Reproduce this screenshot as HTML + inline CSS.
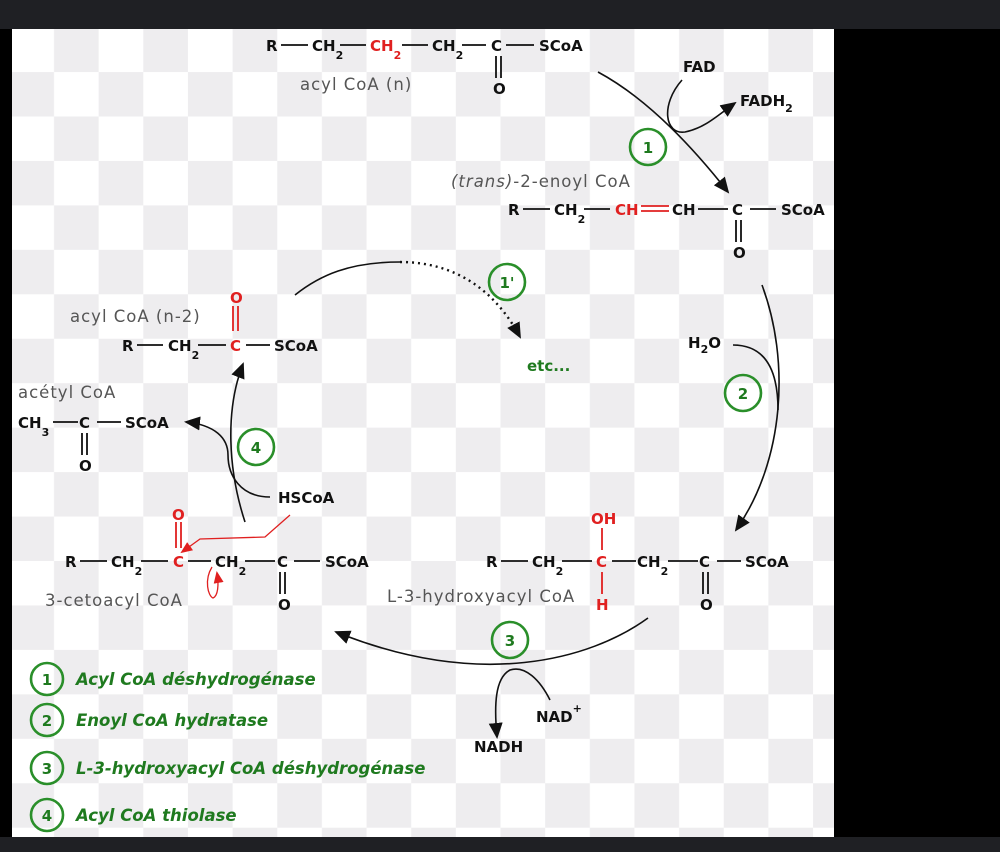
<!DOCTYPE html>
<html><head><meta charset="utf-8"><style>
html,body{margin:0;padding:0;background:#000;}
svg{display:block}
text{font-family:"DejaVu Sans","Liberation Sans",sans-serif;}
.b{font-weight:bold;font-size:15px;fill:#111}
.r{fill:#e02020}
.l{font-size:16.5px;fill:#555;letter-spacing:1px}
.g{font-weight:bold;font-size:15px;fill:#1f7a1f}
.s{font-size:11px}
.lg{font-weight:bold;font-style:italic;font-size:16.5px;fill:#1f7a1f}
</style></head><body>
<svg width="1000" height="852" viewBox="0 0 1000 852" xmlns="http://www.w3.org/2000/svg">
<defs>
<pattern id="ck" x="9.35" y="27.6" width="89.3" height="88.9" patternUnits="userSpaceOnUse">
<rect width="89.3" height="88.9" fill="#fff"/>
<rect x="44.65" y="0" width="44.65" height="44.45" fill="#eeedef"/>
<rect x="0" y="44.45" width="44.65" height="44.45" fill="#eeedef"/>
</pattern>
<marker id="ahb" markerWidth="16" markerHeight="14" refX="14" refY="7" orient="auto" markerUnits="userSpaceOnUse"><path d="M0,0 L16,7 L0,14 z" fill="#111"/></marker>
<marker id="ahr" markerWidth="12" markerHeight="10" refX="10" refY="5" orient="auto" markerUnits="userSpaceOnUse"><path d="M0,0 L12,5 L0,10 z" fill="#e02020"/></marker>
</defs>
<rect width="1000" height="852" fill="#000"/>
<rect width="1000" height="29" fill="#1f2024"/>
<rect y="837" width="1000" height="15" fill="#1f2024"/>
<rect x="12" y="29" width="822" height="808" fill="url(#ck)"/>

<g stroke="#111" stroke-width="1.8" fill="none">
<line x1="281" y1="45" x2="308" y2="45"/><line x1="340" y1="45" x2="366" y2="45"/><line x1="402" y1="45" x2="428" y2="45"/><line x1="462" y1="45" x2="486" y2="45"/><line x1="506" y1="45" x2="534" y2="45"/>
<line x1="496" y1="56" x2="496" y2="78"/><line x1="501" y1="56" x2="501" y2="78"/>
<line x1="523" y1="209" x2="550" y2="209"/><line x1="584" y1="209" x2="610" y2="209"/><line x1="698" y1="209" x2="728" y2="209"/><line x1="750" y1="209" x2="776" y2="209"/>
<line x1="736" y1="220" x2="736" y2="242"/><line x1="741" y1="220" x2="741" y2="242"/>
<line x1="501" y1="561" x2="528" y2="561"/><line x1="562" y1="561" x2="592" y2="561"/><line x1="612" y1="561" x2="636" y2="561"/><line x1="668" y1="561" x2="698" y2="561"/><line x1="717" y1="561" x2="741" y2="561"/>
<line x1="703" y1="572" x2="703" y2="594"/><line x1="708" y1="572" x2="708" y2="594"/>
<line x1="80" y1="561" x2="107" y2="561"/><line x1="141" y1="561" x2="168" y2="561"/><line x1="188" y1="561" x2="211" y2="561"/><line x1="245" y1="561" x2="275" y2="561"/><line x1="294" y1="561" x2="320" y2="561"/>
<line x1="280" y1="572" x2="280" y2="594"/><line x1="285" y1="572" x2="285" y2="594"/>
<line x1="137" y1="345" x2="163" y2="345"/><line x1="198" y1="345" x2="226" y2="345"/><line x1="246" y1="345" x2="270" y2="345"/>
<line x1="53" y1="422" x2="78" y2="422"/><line x1="97" y1="422" x2="121" y2="422"/>
<line x1="82" y1="433" x2="82" y2="455"/><line x1="87" y1="433" x2="87" y2="455"/>
</g>
<g stroke="#e02020" stroke-width="1.8" fill="none">
<line x1="641" y1="206" x2="669" y2="206"/><line x1="641" y1="211" x2="669" y2="211"/>
<line x1="602" y1="528" x2="602" y2="550"/><line x1="602" y1="572" x2="602" y2="594"/>
<line x1="176" y1="522" x2="176" y2="548"/><line x1="181" y1="522" x2="181" y2="548"/>
<line x1="233" y1="306" x2="233" y2="331"/><line x1="238" y1="306" x2="238" y2="331"/>
<path d="M290,515 L265,537 L200,539 L182,552" stroke-width="1.3" marker-end="url(#ahr)"/>
<path d="M212,567 C204,580 208,596 213,598 C218,596 219,585 217,573" stroke-width="1.3" marker-end="url(#ahr)"/>
</g>

<g stroke="#111" stroke-width="1.6" fill="none">
<path d="M598,72 C650,100 695,150 728,192" marker-end="url(#ahb)"/>
<path d="M682,80 C660,105 665,135 685,132 C705,128 718,115 735,103" marker-end="url(#ahb)"/>
<path d="M762,285 C790,360 785,460 736,530" marker-end="url(#ahb)"/>
<path d="M733,345 C765,345 778,370 778,410"/>
<path d="M648,618 C590,660 480,690 336,632" marker-end="url(#ahb)"/>
<path d="M550,700 C540,680 525,665 510,670 C495,678 494,705 497,737" marker-end="url(#ahb)"/>
<path d="M245,522 C228,470 225,410 243,364" marker-end="url(#ahb)"/>
<path d="M270,497 C240,497 228,475 228,455 C228,438 215,425 186,422" marker-end="url(#ahb)"/>
<path d="M295,295 C320,275 350,262 400,262"/>
<path d="M400,262 C455,262 495,290 520,337" stroke-dasharray="2,4" stroke-width="2.4" marker-end="url(#ahb)"/>
</g>

<g stroke="#2a8f2a" stroke-width="2.6" fill="none">
<circle cx="648" cy="147" r="18"/><circle cx="507" cy="282" r="18"/><circle cx="743" cy="393" r="18"/><circle cx="510" cy="640" r="18"/><circle cx="256" cy="447" r="18"/>
<circle cx="47" cy="679" r="16"/><circle cx="47" cy="720" r="16"/><circle cx="47" cy="768" r="16"/><circle cx="47" cy="815" r="16"/>
</g>
<g class="g" text-anchor="middle">
<text x="648" y="153">1</text><text x="507" y="288">1'</text><text x="743" y="399">2</text><text x="510" y="646">3</text><text x="256" y="453">4</text>
<text x="47" y="685">1</text><text x="47" y="726">2</text><text x="47" y="774">3</text><text x="47" y="821">4</text>
</g>
<text class="lg" x="76" y="685">Acyl CoA déshydrogénase</text>
<text class="lg" x="76" y="726">Enoyl CoA hydratase</text>
<text class="lg" x="76" y="774">L-3-hydroxyacyl CoA déshydrogénase</text>
<text class="lg" x="76" y="821">Acyl CoA thiolase</text>
<text class="g" x="527" y="371">etc...</text>

<text class="b" x="266" y="51">R</text>
<text class="b" x="312" y="51">CH<tspan class="s" dy="8">2</tspan></text>
<text class="b r" x="370" y="51">CH<tspan class="s" dy="8">2</tspan></text>
<text class="b" x="432" y="51">CH<tspan class="s" dy="8">2</tspan></text>
<text class="b" x="491" y="51">C</text>
<text class="b" x="539" y="51">SCoA</text>
<text class="b" x="493" y="94">O</text>
<text class="l" x="300" y="90">acyl CoA (n)</text>
<text class="b" x="683" y="72">FAD</text>
<text class="b" x="740" y="106">FADH<tspan class="s" dy="6">2</tspan></text>

<text class="l" x="451" y="187"><tspan font-style="italic">(trans)</tspan>-2-enoyl CoA</text>
<text class="b" x="508" y="215">R</text>
<text class="b" x="554" y="215">CH<tspan class="s" dy="8">2</tspan></text>
<text class="b r" x="615" y="215">CH</text>
<text class="b" x="672" y="215">CH</text>
<text class="b" x="732" y="215">C</text>
<text class="b" x="781" y="215">SCoA</text>
<text class="b" x="733" y="258">O</text>

<text class="b" x="688" y="348">H<tspan class="s" dy="5">2</tspan><tspan dy="-5">O</tspan></text>

<text class="b r" x="591" y="524">OH</text>
<text class="b" x="486" y="567">R</text>
<text class="b" x="532" y="567">CH<tspan class="s" dy="8">2</tspan></text>
<text class="b r" x="596" y="567">C</text>
<text class="b" x="637" y="567">CH<tspan class="s" dy="8">2</tspan></text>
<text class="b" x="699" y="567">C</text>
<text class="b" x="745" y="567">SCoA</text>
<text class="b r" x="596" y="610">H</text>
<text class="b" x="700" y="610">O</text>
<text class="l" x="387" y="602">L-3-hydroxyacyl CoA</text>
<text class="b" x="536" y="722">NAD<tspan class="s" dy="-10">+</tspan></text>
<text class="b" x="474" y="752">NADH</text>

<text class="b r" x="172" y="520">O</text>
<text class="b" x="65" y="567">R</text>
<text class="b" x="111" y="567">CH<tspan class="s" dy="8">2</tspan></text>
<text class="b r" x="173" y="567">C</text>
<text class="b" x="215" y="567">CH<tspan class="s" dy="8">2</tspan></text>
<text class="b" x="277" y="567">C</text>
<text class="b" x="325" y="567">SCoA</text>
<text class="b" x="278" y="610">O</text>
<text class="l" x="45" y="606">3-cetoacyl CoA</text>
<text class="b" x="278" y="503">HSCoA</text>

<text class="l" x="70" y="322">acyl CoA (n-2)</text>
<text class="b r" x="230" y="303">O</text>
<text class="b" x="122" y="351">R</text>
<text class="b" x="168" y="351">CH<tspan class="s" dy="8">2</tspan></text>
<text class="b r" x="230" y="351">C</text>
<text class="b" x="274" y="351">SCoA</text>

<text class="l" x="18" y="398">acétyl CoA</text>
<text class="b" x="18" y="428">CH<tspan class="s" dy="8">3</tspan></text>
<text class="b" x="79" y="428">C</text>
<text class="b" x="125" y="428">SCoA</text>
<text class="b" x="79" y="471">O</text>
</svg>
</body></html>
